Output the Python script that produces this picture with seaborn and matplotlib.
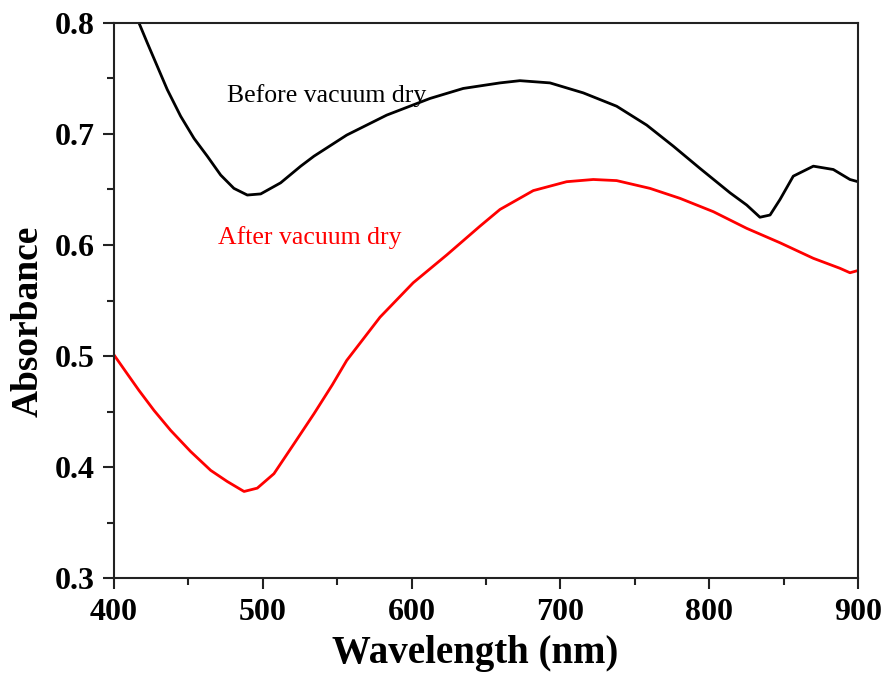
import numpy as np
import pandas as pd
import matplotlib
matplotlib.use("Agg")
import matplotlib.pyplot as plt
import seaborn as sns
from matplotlib.ticker import MultipleLocator

# --- spectra ---
before_wl = [416.8, 422.4, 429.1, 435.8, 444.8, 453.8, 462.7, 471.7, 480.6, 489.6,
             498.6, 512.0, 525.5, 534.4, 556.4, 583.3, 612.4, 634.7, 659.4, 672.8,
             693.0, 715.4, 737.8, 758.0, 775.9, 793.8, 814.0, 825.2, 834.1, 840.9,
             847.6, 856.5, 870.0, 883.4, 894.6, 900.0]
before_abs = [0.800, 0.782, 0.761, 0.740, 0.716, 0.696, 0.680, 0.663, 0.651, 0.645,
              0.646, 0.656, 0.671, 0.680, 0.699, 0.717, 0.732, 0.741, 0.746, 0.748,
              0.746, 0.737, 0.725, 0.708, 0.689, 0.669, 0.647, 0.636, 0.625, 0.627,
              0.641, 0.662, 0.671, 0.668, 0.659, 0.657]

after_wl = [400.0, 408.9, 416.8, 426.9, 438.1, 451.5, 465.0, 476.1, 487.4, 496.3,
            507.5, 521.0, 534.4, 546.7, 556.4, 578.8, 601.1, 623.6, 646.0, 659.4,
            681.8, 704.2, 722.1, 737.8, 760.2, 780.4, 802.8, 825.2, 847.6, 870.0,
            887.9, 894.6, 900.0]
after_abs = [0.501, 0.484, 0.469, 0.451, 0.433, 0.414, 0.397, 0.387, 0.378, 0.381,
             0.394, 0.421, 0.448, 0.474, 0.496, 0.535, 0.566, 0.591, 0.617, 0.632,
             0.649, 0.657, 0.659, 0.658, 0.651, 0.642, 0.630, 0.615, 0.602, 0.588,
             0.579, 0.575, 0.577]

x_ticks = [400, 500, 600, 700, 800, 900]
y_ticks = [0.3, 0.4, 0.5, 0.6, 0.7, 0.8]

df_before = pd.DataFrame({'wl': before_wl, 'abs': before_abs})
df_after = pd.DataFrame({'wl': after_wl, 'abs': after_abs})

sns.set_style("ticks")
plt.rcParams['font.family'] = ['Liberation Serif', 'DejaVu Serif']
plt.rcParams['text.color'] = 'black'
plt.rcParams['axes.labelcolor'] = 'black'

fig = plt.figure(figsize=(8.87, 6.89), dpi=100)
ax = fig.add_axes([0.1285, 0.161, 0.8388, 0.8057])

sns.lineplot(data=df_before, x='wl', y='abs', color='black', lw=2.0, sort=False, ax=ax)
sns.lineplot(data=df_after, x='wl', y='abs', color='#ff0000', lw=2.0, sort=False, ax=ax)

ax.text(475.7, 0.735, 'Before vacuum dry', fontsize=18.5, color='black', va='center', ha='left')
ax.text(470, 0.607, 'After vacuum dry', fontsize=18.5, color='#ff0000', va='center', ha='left')

ax.set_xlim(400, 900)
ax.set_ylim(0.3, 0.8)
ax.set_xticks(x_ticks)
ax.set_yticks(y_ticks)
ax.xaxis.set_minor_locator(MultipleLocator(50))
ax.yaxis.set_minor_locator(MultipleLocator(0.05))
ax.set_xticklabels([str(t) for t in x_ticks], fontweight='bold', fontsize=23)
ax.set_yticklabels([f'{t:.1f}' for t in y_ticks], fontweight='bold', fontsize=23)

ax.tick_params(which='major', direction='out', length=8, width=1.5, pad=6,
               top=False, right=False, colors='#222222', labelcolor='black')
ax.tick_params(which='minor', direction='out', length=5, width=1.5,
               top=False, right=False, colors='#222222')
for s in ax.spines.values():
    s.set_linewidth(1.5)
    s.set_color('#222222')

ax.set_xlabel('Wavelength (nm)', fontsize=28, fontweight='bold', labelpad=6)
ax.set_ylabel('Absorbance', fontsize=27, fontweight='bold')
ax.xaxis.label.set_x(0.485)
ax.yaxis.set_label_coords(-0.092, 0.463)

fig.savefig('out.png', dpi=100)
